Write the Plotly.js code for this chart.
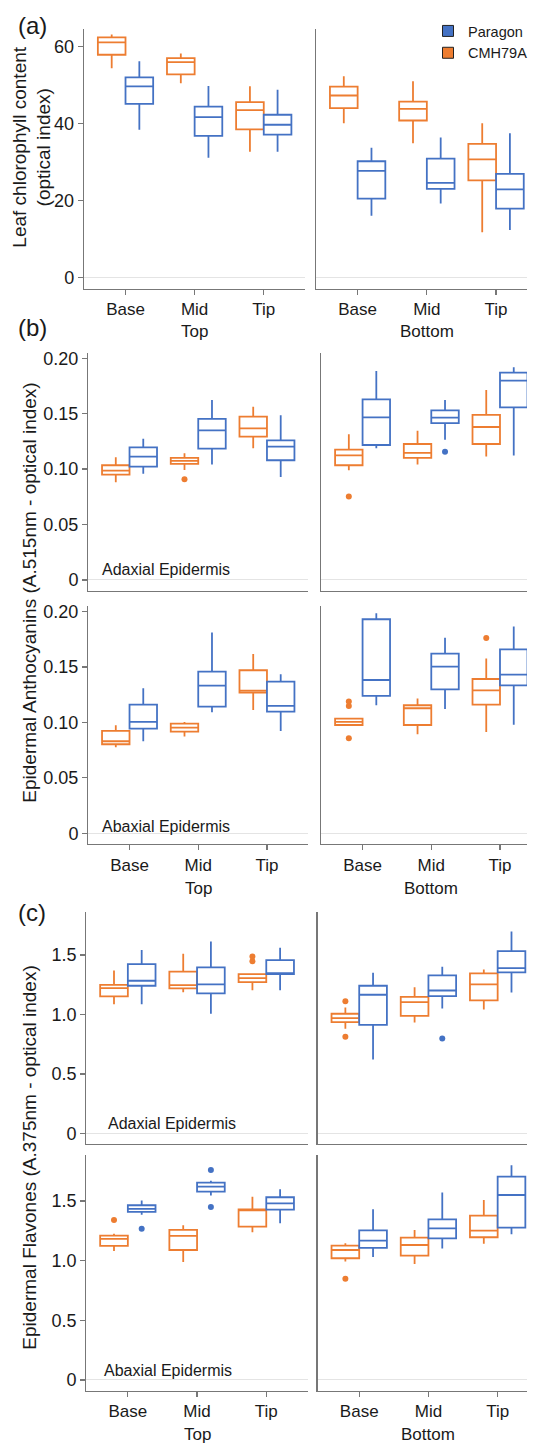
<!DOCTYPE html>
<html><head><meta charset="utf-8">
<script src="https://cdn.plot.ly/plotly-3.0.1.min.js"></script>
<style>html,body{margin:0;padding:0;background:#fff}#chart{width:533px;height:1443px}</style>
</head><body><div id="chart"></div>
<script>
// ---------- DATA ----------
const positions = ['Base', 'Mid', 'Tip'];
const genotypes = ['Paragon', 'CMH79A'];
const leafParts = ['Top', 'Bottom'];
const sideLabels = ['Adaxial Epidermis', 'Abaxial Epidermis', 'Adaxial Epidermis', 'Abaxial Epidermis'];

// five-number summaries per position (Base, Mid, Tip): [lower whisker, Q1, median, Q3, upper whisker]
// (a) Leaf chlorophyll content
const chlTopCMH = [[54.4, 57.9, 61.1, 62.4, 63.2], [50.5, 52.8, 56.0, 57.0, 58.2], [32.7, 38.5, 43.5, 45.6, 49.7]];
const chlTopPar = [[38.4, 45.1, 49.7, 52.0, 56.2], [31.1, 36.8, 41.7, 44.4, 49.8], [32.7, 37.1, 39.7, 42.3, 48.8]];
const chlBotCMH = [[40.1, 44.0, 47.3, 49.6, 52.3], [34.9, 40.8, 43.8, 45.7, 51.0], [11.7, 25.2, 30.7, 34.7, 40.1]];
const chlBotPar = [[16.0, 20.5, 27.7, 30.2, 33.7], [19.2, 23.0, 24.6, 30.9, 36.4], [12.3, 17.9, 22.9, 26.9, 37.5]];

// (b) Epidermal anthocyanins, adaxial
const antAdTopCMH = [[0.0881, 0.0950, 0.0986, 0.1035, 0.1107], [0.0992, 0.1047, 0.1074, 0.1101, 0.1143], [0.1188, 0.1293, 0.1368, 0.1474, 0.1564]];
const antAdTopPar = [[0.0959, 0.1023, 0.1113, 0.1197, 0.1275], [0.1041, 0.1185, 0.1350, 0.1453, 0.1624], [0.0929, 0.1080, 0.1203, 0.1260, 0.1486]];
const antAdBotCMH = [[0.0989, 0.1035, 0.1125, 0.1176, 0.1314], [0.1041, 0.1101, 0.1146, 0.1227, 0.1347], [0.1113, 0.1227, 0.1380, 0.1489, 0.1714]];
const antAdBotPar = [[0.1188, 0.1218, 0.1467, 0.1630, 0.1885], [0.1266, 0.1416, 0.1464, 0.1531, 0.1624], [0.1122, 0.1558, 0.1798, 0.1871, 0.1919]];
// (b) Epidermal anthocyanins, abaxial
const antAbTopCMH = [[0.0776, 0.0803, 0.0830, 0.0923, 0.0974], [0.0872, 0.0917, 0.0953, 0.0989, 0.1005], [0.1113, 0.1269, 0.1287, 0.1471, 0.1618]];
const antAbTopPar = [[0.0830, 0.0944, 0.1005, 0.1161, 0.1308], [0.1092, 0.1143, 0.1332, 0.1459, 0.1811], [0.0923, 0.1098, 0.1149, 0.1368, 0.1435]];
const antAbBotCMH = [[0.0977, 0.0977, 0.1005, 0.1035, 0.1040], [0.0893, 0.0977, 0.1128, 0.1155, 0.1215], [0.0914, 0.1161, 0.1290, 0.1392, 0.1576]];
const antAbBotPar = [[0.1155, 0.1239, 0.1383, 0.1931, 0.1985], [0.1122, 0.1299, 0.1504, 0.1621, 0.1765], [0.0980, 0.1335, 0.1432, 0.1660, 0.1865]];

// (c) Epidermal flavones, adaxial
const flaAdTopCMH = [[1.087, 1.152, 1.222, 1.250, 1.371], [1.188, 1.219, 1.247, 1.360, 1.511], [1.205, 1.272, 1.306, 1.340, 1.343]];
const flaAdTopPar = [[1.087, 1.242, 1.284, 1.424, 1.542], [1.006, 1.177, 1.253, 1.396, 1.615], [1.205, 1.340, 1.348, 1.458, 1.562]];
const flaAdBotCMH = [[0.879, 0.935, 0.969, 1.006, 1.059], [0.933, 0.989, 1.104, 1.149, 1.230], [1.042, 1.118, 1.253, 1.346, 1.379]];
const flaAdBotPar = [[0.621, 0.913, 1.166, 1.242, 1.351], [1.051, 1.154, 1.202, 1.329, 1.402], [1.185, 1.354, 1.390, 1.534, 1.699]];
// (c) Epidermal flavones, abaxial
const flaAbTopCMH = [[1.081, 1.123, 1.182, 1.209, 1.226], [0.989, 1.089, 1.207, 1.257, 1.296], [1.237, 1.285, 1.425, 1.430, 1.536]];
const flaAbTopPar = [[1.385, 1.408, 1.433, 1.464, 1.503], [1.545, 1.578, 1.620, 1.654, 1.670], [1.313, 1.427, 1.480, 1.531, 1.598]];
const flaAbBotCMH = [[0.992, 1.020, 1.089, 1.126, 1.145], [0.972, 1.042, 1.131, 1.193, 1.257], [1.142, 1.196, 1.251, 1.377, 1.508]];
const flaAbBotPar = [[1.031, 1.106, 1.168, 1.254, 1.430], [1.101, 1.187, 1.271, 1.346, 1.570], [1.221, 1.277, 1.550, 1.704, 1.799]];

// outlier points per position (Base, Mid, Tip)
const noOutliers = [[], [], []];
const antAdTopCMHOut = [[], [0.0908], []];
const antAdBotCMHOut = [[0.0752], [], []];
const antAdBotParOut = [[], [0.1158], []];
const antAbBotCMHOut = [[0.1188, 0.1149, 0.0857], [], [0.1762]];
const flaAdTopCMHOut = [[], [], [1.489, 1.447]];
const flaAdBotCMHOut = [[1.112, 0.812], [], []];
const flaAdBotParOut = [[], [0.798], []];
const flaAbTopCMHOut = [[1.341], [], []];
const flaAbTopParOut = [[1.268], [1.760, 1.450], []];
const flaAbBotCMHOut = [[0.849], [], []];

// tick labels
const chlTickVals = [0, 20, 40, 60];
const chlTickText = ['0', '20', '40', '60'];
const antTickVals = [0, 0.05, 0.10, 0.15, 0.20];
const antTickText = ['0', '0.05', '0.10', '0.15', '0.20'];
const flaTickVals = [0, 0.5, 1.0, 1.5];
const flaTickText = ['0', '0.5', '1.0', '1.5'];

const yTitles = ['Leaf chlorophyll content<br>(optical index)',
                 'Epidermal Anthocyanins (A.515nm - optical index)',
                 'Epidermal Flavones (A.375nm - optical index)'];
const panelLetters = ['(a)', '(b)', '(c)'];

// ---------- LAYOUT / DRAWING ----------
const W = 533, H = 1443;
const COL = {Paragon: '#4472C4', CMH79A: '#ED7D31'};
const FONT = 'Liberation Sans, Arial, Helvetica, sans-serif';
const TXT = '#1a1a1a';
const AXC = '#777777';
const fx = p => p / W;
const fy = p => 1 - p / H;

const rows = [
  {yPx: [29, 288.5], range: [-2.9, 64.6], tv: chlTickVals, tt: chlTickText, labels: true, labY: 331,
   xPx: [[85, 308.7], [319.7, 533]], xEnd: [2.6, 2.447],
   cmh: [chlTopCMH, chlBotCMH], par: [chlTopPar, chlBotPar],
   cmhOut: [noOutliers, noOutliers], parOut: [noOutliers, noOutliers]},
  {yPx: [353, 590.7], range: [-0.0097, 0.2048], tv: antTickVals, tt: antTickText, labels: false,
   xPx: [[89.3, 311.7], [325, 533]], xEnd: [2.6, 2.393],
   cmh: [antAdTopCMH, antAdBotCMH], par: [antAdTopPar, antAdBotPar],
   cmhOut: [antAdTopCMHOut, antAdBotCMHOut], parOut: [noOutliers, antAdBotParOut]},
  {yPx: [606.3, 844], range: [-0.0097, 0.2048], tv: antTickVals, tt: antTickText, labels: true, labY: 888,
   xPx: [[89.3, 311.7], [325, 533]], xEnd: [2.6, 2.393],
   cmh: [antAbTopCMH, antAbBotCMH], par: [antAbTopPar, antAbBotPar],
   cmhOut: [noOutliers, antAbBotCMHOut], parOut: [noOutliers, noOutliers]},
  {yPx: [912.3, 1144], range: [-0.09, 1.86], tv: flaTickVals, tt: flaTickText, labels: false,
   xPx: [[87.3, 311.3], [321.3, 533]], xEnd: [2.6, 2.424],
   cmh: [flaAdTopCMH, flaAdBotCMH], par: [flaAdTopPar, flaAdBotPar],
   cmhOut: [flaAdTopCMHOut, flaAdBotCMHOut], parOut: [noOutliers, flaAdBotParOut]},
  {yPx: [1155, 1390.7], range: [-0.09, 1.885], tv: flaTickVals, tt: flaTickText, labels: true, labY: 1434,
   xPx: [[87.3, 311.3], [321.3, 533]], xEnd: [2.6, 2.424],
   cmh: [flaAbTopCMH, flaAbBotCMH], par: [flaAbTopPar, flaAbBotPar],
   cmhOut: [flaAbTopCMHOut, flaAbBotCMHOut], parOut: [flaAbTopParOut, noOutliers]}
];

function boxTrace(stats, outs, name, xa, ya) {
  const t = {
    type: 'box', name: name, orientation: 'v',
    x: positions.slice(),
    lowerfence: stats.map(s => s[0]),
    q1: stats.map(s => s[1]),
    median: stats.map(s => s[2]),
    q3: stats.map(s => s[3]),
    upperfence: stats.map(s => s[4]),
    boxpoints: 'outliers', jitter: 0, pointpos: 0,
    whiskerwidth: 0,
    fillcolor: '#ffffff',
    line: {color: COL[name], width: 1.8},
    marker: {color: COL[name], size: 6, line: {width: 0}},
    offsetgroup: name,
    xaxis: xa, yaxis: ya, showlegend: false, hoverinfo: 'skip'
  };
  // sample points (only outliers are drawn); empty groups get a null placeholder
  if (outs.some(a => a.length)) {
    t.y = outs.map(a => (a.length ? a.slice() : [null]));
  }
  return t;
}

const data = [];
const layout = {
  width: W, height: H, autosize: false,
  margin: {l: 0, r: 0, t: 0, b: 0, pad: 0},
  paper_bgcolor: '#ffffff', plot_bgcolor: '#ffffff',
  font: {family: FONT, color: TXT, size: 16},
  boxmode: 'group', boxgap: 0.2, boxgroupgap: 0,
  showlegend: true,
  legend: {x: 433 / W, y: fy(15), xanchor: 'left', yanchor: 'top',
           bgcolor: 'rgba(0,0,0,0)', font: {size: 14.5, color: TXT, family: FONT},
           itemclick: false, itemdoubleclick: false, tracegroupgap: 0},
  annotations: [], shapes: []
};

let k = 0;
rows.forEach((r, ri) => {
  for (let c = 0; c < 2; c++) {
    k += 1;
    const xs = k === 1 ? 'x' : 'x' + k;
    const ys = k === 1 ? 'y' : 'y' + k;
    const xKey = k === 1 ? 'xaxis' : 'xaxis' + k;
    const yKey = k === 1 ? 'yaxis' : 'yaxis' + k;
    layout[xKey] = {
      type: 'category', categoryorder: 'array', categoryarray: positions,
      domain: [fx(r.xPx[c][0]), fx(r.xPx[c][1])],
      range: [-0.6, r.xEnd[c]], anchor: ys,
      showline: true, linecolor: AXC, linewidth: 1.3, mirror: false,
      showgrid: false, zeroline: false,
      ticks: r.labels ? 'outside' : '', ticklen: 5, tickwidth: 1.3, tickcolor: AXC,
      showticklabels: r.labels,
      tickfont: {size: 17, color: TXT, family: FONT},
      fixedrange: true
    };
    layout[yKey] = {
      domain: [fy(r.yPx[1]), fy(r.yPx[0])],
      range: r.range, anchor: xs,
      showline: true, linecolor: AXC, linewidth: 1.3, mirror: false,
      showgrid: false,
      zeroline: true, zerolinecolor: '#e4e4e4', zerolinewidth: 1,
      tickmode: 'array', tickvals: r.tv, ticktext: r.tt,
      ticks: c === 0 ? 'outside' : '', ticklen: 5, tickwidth: 1.3, tickcolor: AXC,
      showticklabels: c === 0,
      tickfont: {size: 18, color: TXT, family: FONT},
      fixedrange: true
    };
    data.push(boxTrace(r.cmh[c], r.cmhOut[c], 'CMH79A', xs, ys));
    data.push(boxTrace(r.par[c], r.parOut[c], 'Paragon', xs, ys));

    if (r.labels) {
      // centre the facet label under the middle category tick
      const d0 = r.xPx[c][0], d1 = r.xPx[c][1];
      const midPx = d0 + (1 + 0.6) * (d1 - d0) / (r.xEnd[c] + 0.6);
      layout.annotations.push({
        text: leafParts[c], xref: 'paper', yref: 'paper',
        x: fx(midPx), y: fy(r.labY),
        xanchor: 'center', yanchor: 'middle', showarrow: false,
        font: {size: 17, color: TXT, family: FONT}
      });
    }
  }
});

// legend entries (filled squares)
genotypes.forEach(g => {
  data.push({type: 'scatter', mode: 'markers', name: g, x: [null], y: [null],
    xaxis: 'x2', yaxis: 'y2', showlegend: true, hoverinfo: 'skip',
    marker: {symbol: 'square', size: 11, color: COL[g], line: {color: '#222222', width: 1}}});
});

// panel letters
[[25, 0], [328, 1], [912, 2]].forEach(([py, i]) => {
  layout.annotations.push({text: panelLetters[i], xref: 'paper', yref: 'paper',
    x: fx(16), y: fy(py), xanchor: 'left', yanchor: 'middle', showarrow: false,
    font: {size: 24, color: TXT, family: FONT}});
});

// y-axis titles
[[32, 147, 0], [29, 593, 1], [29, 1158, 2]].forEach(([px, py, i]) => {
  layout.annotations.push({text: yTitles[i], xref: 'paper', yref: 'paper',
    x: fx(px), y: fy(py), xanchor: 'center', yanchor: 'middle', textangle: -90,
    showarrow: false, font: {size: 19, color: TXT, family: FONT}});
});

// epidermis side labels
[[101, 569], [101, 826], [107, 1123], [103, 1370]].forEach(([px, py], i) => {
  layout.annotations.push({text: sideLabels[i], xref: 'paper', yref: 'paper',
    x: fx(px), y: fy(py), xanchor: 'left', yanchor: 'middle', showarrow: false,
    font: {size: 16, color: TXT, family: FONT}});
});

Plotly.newPlot('chart', data, layout, {staticPlot: true, displayModeBar: false});
</script>
</body></html>
